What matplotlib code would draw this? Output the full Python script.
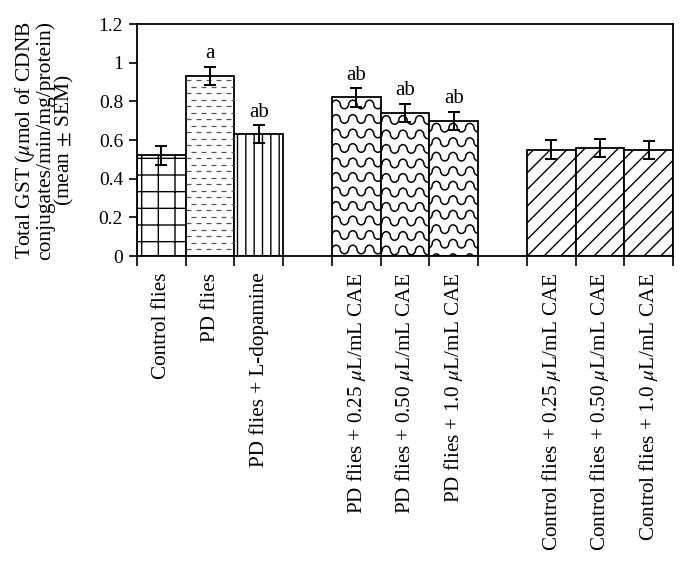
import numpy as np
import matplotlib
matplotlib.use("Agg")
import matplotlib.pyplot as plt

plt.rcParams['font.family'] = ['Liberation Serif', 'DejaVu Serif']
plt.rcParams['mathtext.fontset'] = 'stix'
plt.rcParams['hatch.linewidth'] = 1.0

categories = [
    "Control flies",
    "PD flies",
    "PD flies + L-dopamine",
    "PD flies + 0.25 $\\mu$L/mL CAE",
    "PD flies + 0.50 $\\mu$L/mL CAE",
    "PD flies + 1.0 $\\mu$L/mL CAE",
    "Control flies + 0.25 $\\mu$L/mL CAE",
    "Control flies + 0.50 $\\mu$L/mL CAE",
    "Control flies + 1.0 $\\mu$L/mL CAE",
]
means = [0.52, 0.93, 0.63, 0.82, 0.74, 0.70, 0.55, 0.56, 0.55]
sems = [0.047, 0.048, 0.047, 0.047, 0.047, 0.047, 0.048, 0.047, 0.047]
letters = ["", "a", "ab", "ab", "ab", "ab", "", "", ""]
positions = [0, 1, 2, 4, 5, 6, 8, 9, 10]
hatches = ['+', '', '||', '', '', '', '//', '//', '//']
styles = ['grid', 'dash', 'vert', 'wave', 'wave', 'wave', 'diag', 'diag', 'diag']

fig = plt.figure(figsize=(6.88, 5.70), dpi=100)
ax = fig.add_axes([137/688, 1 - 256/570, 536/688, 232/570])

bars = ax.bar(positions, means, width=1.0, color='white', edgecolor='black',
              linewidth=1.3, hatch=hatches, zorder=2)
ax.errorbar(positions, means, yerr=sems, fmt='none', ecolor='black',
            elinewidth=1.4, capsize=4.5, capthick=1.4, zorder=4)

# decorative fills that matplotlib hatches lack
ypu = 193.3  # px per y unit
xpu = 48.7   # px per x unit
for b, st in zip(bars, styles):
    x0, w, h = b.get_x(), b.get_width(), b.get_height()
    if st == 'dash':
        for i, yy in enumerate(np.arange(6.5 / ypu, h, 6.5 / ypu)):
            ln, = ax.plot([x0, x0 + w], [yy, yy], color='#555555', lw=0.9,
                          linestyle=(4.0 * (i % 2), (4.0, 4.0)), zorder=3)
            ln.set_clip_path(b)
    elif st == 'wave':
        xs = np.linspace(x0, x0 + w, 400)
        period = 16.7 / xpu
        amp = 4.3 / ypu
        ph = np.sin(2 * np.pi * (xs - 3.5) / period)
        ph = np.sign(ph) * np.abs(ph) ** 0.5
        for yy in np.arange(h - 7 / ypu, -10 / ypu, -14.5 / ypu):
            ln, = ax.plot(xs, yy + amp * ph, color='black', lw=1.1, zorder=3)
            ln.set_clip_path(b)

for p, m, s, t in zip(positions, means, sems, letters):
    if t:
        ax.annotate(t, (p, m + s), xytext=(0, 2.5), textcoords='offset points',
                    ha='center', va='bottom', fontsize=15)

ax.set_xlim(-0.5, 10.5)
ax.set_ylim(0, 1.2)
ax.set_yticks([0, 0.2, 0.4, 0.6, 0.8, 1.0, 1.2])
ax.set_yticklabels(['0', '0.2', '0.4', '0.6', '0.8', '1', '1.2'], fontsize=14)
edges = [-0.5, 0.5, 1.5, 2.5, 3.5, 4.5, 5.5, 6.5, 7.5, 8.5, 9.5, 10.5]
ax.set_xticks(edges)
ax.set_xticklabels([])
ax.set_xticks(positions, minor=True)
ax.set_xticklabels(categories, minor=True, rotation=90, fontsize=15.2,
                   va='top', ha='center')
ax.tick_params(axis='x', which='minor', length=0, pad=12)
ax.tick_params(axis='x', which='major', length=7, width=1.2, direction='out')
ax.tick_params(axis='y', length=6, width=1.2, direction='out', pad=4)
for sp in ax.spines.values():
    sp.set_linewidth(1.3)

ax.set_ylabel("Total GST ($\\mu$mol of CDNB\nconjugates/min/mg/protein)\n(mean $\\pm$ SEM)",
              fontsize=15.5, linespacing=0.9, labelpad=16)

fig.savefig("out.png", dpi=100)
